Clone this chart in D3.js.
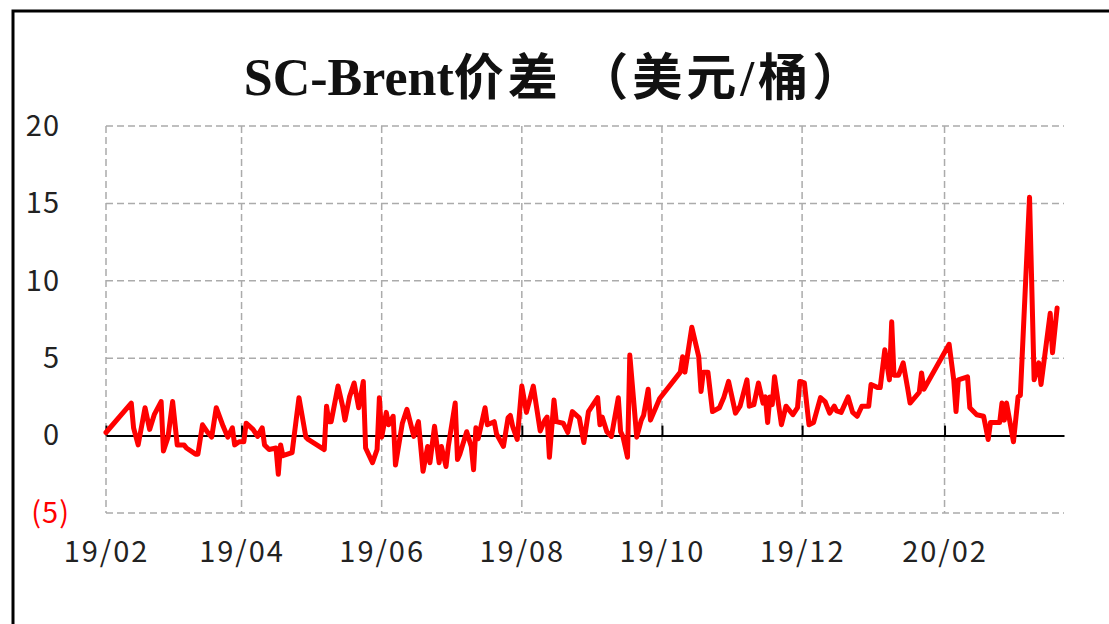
<!DOCTYPE html>
<html lang="zh">
  <head>
  <meta charset="utf-8" />
  <title>SC-Brent价差</title>
  <style>
    body { margin: 0; background: #fff; }
    svg { display: block; }
  </style>
  </head>
  <body>
    <div id="chart"></div>

    <script src="https://cdn.jsdelivr.net/npm/d3@7/dist/d3.min.js"></script>
    <script type="text/javascript">
      "use strict";

      // spread, USD/bbl
      let dates = [
        "2019-02-01","2019-02-12","2019-02-13","2019-02-15","2019-02-18","2019-02-20","2019-02-22","2019-02-25","2019-02-26","2019-02-28",
        "2019-03-02","2019-03-04","2019-03-07","2019-03-08","2019-03-12","2019-03-13","2019-03-15","2019-03-17","2019-03-19","2019-03-21",
        "2019-03-24","2019-03-26","2019-03-28","2019-03-29","2019-03-31","2019-04-02","2019-04-03","2019-04-06","2019-04-08","2019-04-09",
        "2019-04-10","2019-04-11","2019-04-13","2019-04-16","2019-04-17","2019-04-18","2019-04-19","2019-04-21","2019-04-23","2019-04-24",
        "2019-04-26","2019-04-29","2019-04-30","2019-05-07","2019-05-08","2019-05-09","2019-05-10","2019-05-13","2019-05-15","2019-05-16",
        "2019-05-18","2019-05-20","2019-05-22","2019-05-24","2019-05-25","2019-05-28","2019-05-30","2019-05-31","2019-06-01","2019-06-03",
        "2019-06-04","2019-06-06","2019-06-07","2019-06-10","2019-06-12","2019-06-15","2019-06-17","2019-06-19","2019-06-21","2019-06-22",
        "2019-06-24","2019-06-26","2019-06-27","2019-06-29","2019-06-30","2019-07-03","2019-07-04","2019-07-05","2019-07-08","2019-07-10",
        "2019-07-11","2019-07-12","2019-07-13","2019-07-16","2019-07-17","2019-07-20","2019-07-21","2019-07-24","2019-07-26","2019-07-27",
        "2019-07-28","2019-07-30","2019-08-01","2019-08-03","2019-08-06","2019-08-09","2019-08-11","2019-08-12","2019-08-13","2019-08-15",
        "2019-08-16","2019-08-19","2019-08-21","2019-08-23","2019-08-26","2019-08-28","2019-08-30","2019-09-03","2019-09-04","2019-09-05",
        "2019-09-07","2019-09-09","2019-09-12","2019-09-13","2019-09-14","2019-09-16","2019-09-17","2019-09-19","2019-09-20","2019-09-22",
        "2019-09-23","2019-09-25","2019-09-26","2019-09-30","2019-10-09","2019-10-10","2019-10-11","2019-10-14","2019-10-17","2019-10-18",
        "2019-10-19","2019-10-21","2019-10-23","2019-10-26","2019-10-28","2019-10-30","2019-11-02","2019-11-04","2019-11-07","2019-11-08",
        "2019-11-10","2019-11-12","2019-11-14","2019-11-15","2019-11-16","2019-11-17","2019-11-18","2019-11-19","2019-11-22","2019-11-24",
        "2019-11-27","2019-11-29","2019-11-30","2019-12-02","2019-12-04","2019-12-06","2019-12-09","2019-12-11","2019-12-13","2019-12-15",
        "2019-12-16","2019-12-18","2019-12-21","2019-12-23","2019-12-25","2019-12-27","2019-12-30","2019-12-31","2020-01-03","2020-01-04",
        "2020-01-06","2020-01-08","2020-01-09","2020-01-10","2020-01-12","2020-01-14","2020-01-16","2020-01-17","2020-01-21","2020-01-22",
        "2020-01-23","2020-02-03","2020-02-05","2020-02-06","2020-02-07","2020-02-11","2020-02-12","2020-02-15","2020-02-18","2020-02-20",
        "2020-02-21","2020-02-25","2020-02-26","2020-02-27","2020-02-28","2020-03-02","2020-03-04","2020-03-05","2020-03-09","2020-03-11",
        "2020-03-13","2020-03-14","2020-03-18","2020-03-19","2020-03-21"
      ]
      let spread = [
        0.2, 2.1, 0.5, -0.6, 1.8, 0.4, 1.35, 2.2, -1.0, -0.1,
        2.2, -0.6, -0.6, -0.8, -1.2, -1.2, 0.7, 0.25, -0.1, 1.8,
        0.6, -0.1, 0.5, -0.6, -0.4, -0.4, 0.8, 0.4, -0.05, 0.25,
        0.5, -0.6, -0.9, -0.8, -2.5, -0.6, -1.3, -1.2, -1.1, 0.1,
        2.45, -0.1, -0.25, -0.9, 1.9, 0.9, 0.9, 3.2, 1.9, 1.0,
        2.5, 3.4, 1.8, 3.5, -0.8, -1.75, -0.9, 2.45, -0.1, 1.5,
        0.7, 1.25, -1.9, 0.8, 1.7, -0.05, 0.9, -2.3, -0.7, -1.75,
        0.6, -1.75, -0.7, -2.0, -0.7, 2.1, -1.55, -1.2, 0.25, -0.7,
        -2.2, 0.5, -0.2, 1.8, 0.7, 0.9, 0.1, -0.7, 1.15, 1.3,
        0.6, -0.25, 3.2, 1.5, 3.2, 0.3, 1.0, 1.2, -1.4, 2.3,
        0.9, 0.8, 0.2, 1.55, 1.15, -0.45, 1.55, 2.45, 0.7, 1.2,
        0.25, -0.05, 2.45, 0.25, -0.05, -1.4, 5.2, 1.7, -0.1, 1.0,
        1.3, 3.0, 1.0, 2.4, 4.1, 5.1, 4.1, 7.0, 5.1, 2.85,
        4.1, 4.1, 1.55, 1.8, 2.5, 3.5, 1.45, 1.9, 3.6, 1.9,
        2.0, 3.4, 2.1, 2.5, 0.85, 2.5, 2.0, 3.8, 0.7, 1.9,
        1.35, 1.8, 3.5, 3.4, 0.7, 0.85, 2.45, 2.2, 1.45, 1.9,
        1.6, 1.5, 2.5, 1.5, 1.25, 1.9, 1.9, 3.3, 3.1, 3.1,
        5.55, 3.6, 7.35, 3.9, 3.9, 4.7, 3.0, 2.1, 2.8, 4.05,
        3.0, 5.9, 3.6, 1.55, 3.6, 3.8, 1.8, 1.35, 1.25, -0.25,
        0.85, 0.85, 2.1, 1.0, 2.1, -0.4, 2.5, 2.6, 15.4, 3.6,
        4.7, 3.3, 7.9, 5.35, 8.25
      ]
      let xTicks = ["2019-02-01","2019-04-01","2019-06-01","2019-08-01","2019-10-01","2019-12-01","2020-02-01"]
      let xLabels = ["19/02","19/04","19/06","19/08","19/10","19/12","20/02"]
      let yTicks = [-5, 0, 5, 10, 15, 20]
      let xDomain = ["2019-02-01","2020-03-24"]
      let titleLatin = "SC-Brent"
      let titleCJK = "价差 （美元/桶）"

      let width = 1109
      let height = 624
      let margin = ({top: 126, right: 45, bottom: 111, left: 106})
      let parse = d3.timeParse("%Y-%m-%d")

      let svg = d3.select("#chart").append("svg")
          .attr("width", width)
          .attr("height", height)

      // outer frame (runs off the right and bottom)
      svg.append("rect")
          .attr("x", 13).attr("y", 11)
          .attr("width", width + 20).attr("height", height + 20)
          .attr("fill", "none")
          .attr("stroke", "#000")
          .attr("stroke-width", 3)

      let title = svg.append("text")
          .attr("x", 555).attr("y", 95)
          .attr("text-anchor", "middle")
          .attr("font-family", "'Liberation Serif', 'Noto Sans CJK SC', serif")
          .attr("font-weight", "bold")
          .attr("font-size", 52)
          .attr("fill", "#111")
      title.append("tspan").text(titleLatin)
      title.append("tspan")
          .attr("font-size", 50)
          .attr("letter-spacing", 4)
          .text(titleCJK)

      let data = dates.map((d, i) => ({date: parse(d), v: spread[i]}))

      let x = d3.scaleTime()
          .domain(xDomain.map(parse))
          .range([margin.left, width - margin.right])

      let y = d3.scaleLinear()
          .domain([-5, 20])
          .range([height - margin.bottom, margin.top])

      let tickFont = "'Noto Sans CJK SC', 'Noto Sans', sans-serif"

      // dashed grid
      let grid = svg.append("g")
      grid.selectAll("line.h")
        .data(yTicks.filter(t => t != 0))
        .join("line")
          .attr("x1", x.range()[0]).attr("x2", x.range()[1])
          .attr("y1", d => y(d)).attr("y2", d => y(d))
      grid.selectAll("line.v")
        .data(xTicks.map(parse))
        .join("line")
          .attr("x1", d => x(d)).attr("x2", d => x(d))
          .attr("y1", y(20)).attr("y2", y(-5))
      grid.selectAll("line")
          .attr("stroke", "#ababab")
          .attr("stroke-width", 1.5)
          .attr("stroke-dasharray", "7,4")

      // y axis labels
      svg.append("g")
          .attr("transform", `translate(${margin.left},0)`)
          .call(d3.axisLeft(y).tickValues(yTicks).tickSize(0).tickPadding(46)
            .tickFormat(d => d < 0 ? `(${-d})` : d))
          .call(g => g.select(".domain").remove())
          .call(g => g.selectAll("text")
            .attr("font-family", tickFont)
            .attr("font-size", 29)
            .attr("letter-spacing", 1)
            .attr("fill", d => d < 0 ? "#ff0000" : "#222")
            .attr("dx", d => d < 0 ? 10 : 0))

      // x axis labels
      svg.append("g")
          .attr("transform", `translate(0,${y(-5)})`)
          .call(d3.axisBottom(x).tickValues(xTicks.map(parse)).tickSize(0).tickPadding(28)
            .tickFormat((d, i) => xLabels[i]))
          .call(g => g.select(".domain").remove())
          .call(g => g.selectAll("text")
            .attr("font-family", tickFont)
            .attr("font-size", 29)
            .attr("letter-spacing", 2)
            .attr("fill", "#222"))

      // zero line with small upward ticks
      svg.append("g")
          .attr("transform", `translate(0,${y(0)})`)
          .call(d3.axisBottom(x).tickValues(xTicks.map(parse)).tickSizeInner(-10).tickSizeOuter(0).tickFormat(""))
          .call(g => g.selectAll(".domain, line").attr("stroke", "#000").attr("stroke-width", 2))

      let line = d3.line()
          .x(d => x(d.date))
          .y(d => y(d.v))

      svg.append("path")
          .datum(data)
          .attr("fill", "none")
          .attr("stroke", "#ff0000")
          .attr("stroke-width", 5)
          .attr("stroke-linejoin", "round")
          .attr("stroke-linecap", "round")
          .attr("d", line)
    </script>
  </body>
</html>
